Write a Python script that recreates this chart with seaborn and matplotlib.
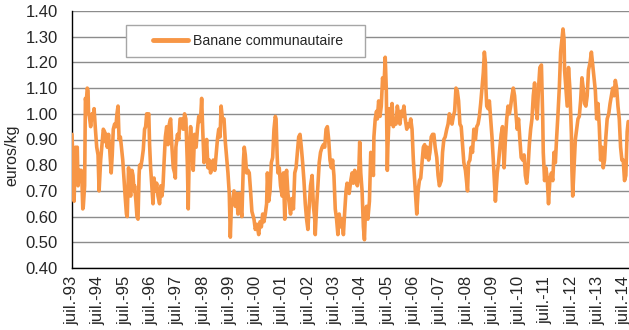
import matplotlib
matplotlib.use("Agg")
import matplotlib.pyplot as plt
import matplotlib.dates as mdates
from matplotlib.patches import Rectangle
from matplotlib.ticker import FuncFormatter
import pandas as pd
import seaborn as sns

# Weekly wholesale price of EU bananas, euros/kg, indexed by decimal year
# (x.5 = beginning of July)
year = [
    1993.50, 1993.54, 1993.58, 1993.63, 1993.68, 1993.70, 1993.73, 1993.79, 1993.85, 1993.88,
    1993.91, 1993.93, 1993.98, 1994.01, 1994.04, 1994.08, 1994.11, 1994.13, 1994.16, 1994.21,
    1994.26, 1994.30, 1994.34, 1994.39, 1994.44, 1994.49, 1994.53, 1994.56, 1994.59, 1994.64,
    1994.69, 1994.74, 1994.78, 1994.81, 1994.84, 1994.89, 1994.94, 1994.99, 1995.03, 1995.07,
    1995.12, 1995.17, 1995.21, 1995.25, 1995.29, 1995.34, 1995.38, 1995.43, 1995.48, 1995.52,
    1995.57, 1995.60, 1995.65, 1995.69, 1995.73, 1995.78, 1995.82, 1995.86, 1995.88, 1995.93,
    1995.97, 1996.01, 1996.05, 1996.07, 1996.11, 1996.16, 1996.21, 1996.26, 1996.30, 1996.34,
    1996.38, 1996.42, 1996.45, 1996.49, 1996.54, 1996.58, 1996.62, 1996.67, 1996.72, 1996.77,
    1996.83, 1996.88, 1996.92, 1996.96,
    1997.00, 1997.05, 1997.10, 1997.15, 1997.20, 1997.25, 1997.30, 1997.35, 1997.40, 1997.43,
    1997.45, 1997.51, 1997.56, 1997.61, 1997.67, 1997.73, 1997.78, 1997.83, 1997.89, 1997.92,
    1997.96, 1998.01, 1998.06, 1998.11, 1998.16, 1998.22, 1998.27, 1998.32, 1998.37, 1998.39,
    1998.43, 1998.47, 1998.52, 1998.57, 1998.62, 1998.67, 1998.72, 1998.77, 1998.82, 1998.87,
    1998.93, 1998.98, 1999.03, 1999.08, 1999.13, 1999.17, 1999.22, 1999.28, 1999.33, 1999.38,
    1999.43, 1999.48, 1999.52, 1999.56, 1999.61, 1999.66, 1999.71, 1999.76, 1999.81, 1999.86,
    1999.91, 1999.96, 2000.02, 2000.05, 2000.09, 2000.14, 2000.19, 2000.24, 2000.29, 2000.34,
    2000.42, 2000.47, 2000.53, 2000.60, 2000.65, 2000.70, 2000.75, 2000.80, 2000.85, 2000.90,
    2000.93, 2000.98, 2001.03, 2001.08, 2001.13, 2001.18, 2001.23, 2001.26, 2001.30, 2001.33,
    2001.38, 2001.43, 2001.49, 2001.54, 2001.59, 2001.61, 2001.66, 2001.71, 2001.76, 2001.81,
    2001.86, 2001.92, 2001.97, 2002.02, 2002.07, 2002.12, 2002.17, 2002.22, 2002.27, 2002.32,
    2002.37, 2002.42, 2002.47, 2002.52, 2002.57, 2002.63, 2002.68, 2002.73, 2002.75, 2002.80,
    2002.85, 2002.90, 2002.95, 2003.01, 2003.06, 2003.11, 2003.16, 2003.21, 2003.26, 2003.31,
    2003.36, 2003.41, 2003.46, 2003.51, 2003.56, 2003.61, 2003.66, 2003.72, 2003.77, 2003.82,
    2003.87,
    2003.92, 2003.96, 2003.99, 2004.04, 2004.10, 2004.15, 2004.20, 2004.25, 2004.30, 2004.35,
    2004.40, 2004.44, 2004.48, 2004.53, 2004.58, 2004.62, 2004.65, 2004.70, 2004.75, 2004.81,
    2004.86, 2004.91, 2004.96, 2004.98, 2005.03, 2005.08, 2005.11, 2005.16, 2005.21, 2005.26,
    2005.31, 2005.36, 2005.41, 2005.45, 2005.49, 2005.51, 2005.57, 2005.62, 2005.67, 2005.72,
    2005.77, 2005.82, 2005.87, 2005.92, 2005.97, 2006.02, 2006.07, 2006.12, 2006.17, 2006.23,
    2006.28, 2006.33, 2006.38, 2006.43, 2006.48, 2006.53, 2006.58, 2006.61, 2006.66, 2006.71,
    2006.76, 2006.81, 2006.86, 2006.91, 2006.96, 2007.01, 2007.06, 2007.11, 2007.16, 2007.21,
    2007.26, 2007.31, 2007.37, 2007.42, 2007.47,
    2007.54, 2007.59, 2007.64, 2007.69, 2007.75, 2007.80, 2007.85, 2007.90, 2007.95, 2008.00,
    2008.05, 2008.10, 2008.15, 2008.20, 2008.25, 2008.30, 2008.35, 2008.40, 2008.46, 2008.51,
    2008.54, 2008.58, 2008.63, 2008.68, 2008.73, 2008.78, 2008.84, 2008.89, 2008.94, 2008.99,
    2009.04, 2009.09, 2009.14, 2009.18, 2009.22, 2009.24, 2009.27, 2009.32, 2009.37, 2009.42,
    2009.47, 2009.52, 2009.56, 2009.60, 2009.63, 2009.67, 2009.72, 2009.77, 2009.82, 2009.87,
    2009.93, 2009.98, 2010.03, 2010.08, 2010.13, 2010.18, 2010.23, 2010.28, 2010.33, 2010.38,
    2010.43, 2010.48, 2010.53, 2010.58, 2010.64, 2010.69, 2010.74, 2010.79, 2010.84, 2010.89,
    2010.94, 2010.99, 2011.04, 2011.09, 2011.14, 2011.19, 2011.24, 2011.29, 2011.35, 2011.37,
    2011.40, 2011.42, 2011.47, 2011.52, 2011.57, 2011.62, 2011.67, 2011.73, 2011.78, 2011.83,
    2011.88, 2011.93, 2011.98, 2012.03, 2012.08, 2012.13, 2012.17, 2012.21, 2012.23, 2012.28,
    2012.33, 2012.38, 2012.43, 2012.49, 2012.51, 2012.54, 2012.59, 2012.64, 2012.69, 2012.74,
    2012.79, 2012.84, 2012.89, 2012.94, 2012.99, 2013.04, 2013.09, 2013.14, 2013.20, 2013.25,
    2013.30, 2013.35, 2013.40, 2013.45, 2013.50, 2013.55, 2013.60, 2013.65, 2013.70, 2013.75,
    2013.80, 2013.85, 2013.91, 2013.96, 2014.01, 2014.06, 2014.11, 2014.16, 2014.21, 2014.26,
    2014.31, 2014.36, 2014.41, 2014.46, 2014.51, 2014.56, 2014.61, 2014.65,
]

price = [
    0.92, 0.80, 0.66, 0.87, 0.85, 0.87, 0.72, 0.78, 0.78, 0.73,
    0.63, 0.64, 0.72, 1.06, 1.04, 1.10, 1.09, 1.00, 0.99, 0.95,
    1.00, 0.98, 1.02, 0.94, 0.87, 0.84, 0.70, 0.76, 0.82, 0.88,
    0.94, 0.93, 0.89, 0.92, 0.87, 0.92, 0.85, 0.77, 0.84, 0.94,
    0.96, 0.95, 1.00, 1.03, 0.90, 0.91, 0.87, 0.82, 0.74, 0.68,
    0.61, 0.60, 0.79, 0.72, 0.68, 0.78, 0.76, 0.70, 0.72, 0.66,
    0.60, 0.59, 0.76, 0.80, 0.79, 0.82, 0.86, 0.94, 0.95, 1.00,
    0.99, 1.00, 0.88, 0.79, 0.71, 0.65, 0.75, 0.70, 0.73, 0.68,
    0.65, 0.72, 0.68, 0.72,
    0.81, 0.91, 0.95, 0.88, 0.96, 0.98, 0.87, 0.79, 0.77, 0.75,
    0.87, 0.92, 0.90, 0.98, 0.98, 0.94, 1.00, 0.98, 0.79, 0.63,
    0.85, 0.95, 0.87, 0.78, 0.92, 0.87, 0.94, 0.99, 0.97, 0.98,
    1.06, 0.94, 0.81, 0.84, 0.90, 0.79, 0.82, 0.77, 0.80, 0.82,
    0.78, 0.84, 0.90, 0.94, 0.91, 1.03, 0.98, 0.98, 0.89, 0.83,
    0.77, 0.69, 0.52, 0.64, 0.66, 0.70, 0.64, 0.69, 0.61, 0.69,
    0.63, 0.60, 0.82, 0.87, 0.84, 0.77, 0.78, 0.77, 0.70, 0.62,
    0.59, 0.55, 0.57, 0.53, 0.58, 0.56, 0.61, 0.58, 0.61, 0.65,
    0.77, 0.66, 0.70, 0.81, 0.83, 0.94, 0.99, 0.98, 0.84, 0.77,
    0.79, 0.72, 0.68, 0.77, 0.59, 0.74, 0.78, 0.69, 0.65, 0.61,
    0.67, 0.63, 0.77, 0.79, 0.85, 0.91, 0.92, 0.87, 0.81, 0.74,
    0.65, 0.59, 0.55, 0.64, 0.72, 0.76, 0.64, 0.59, 0.53, 0.64,
    0.72, 0.81, 0.85, 0.87, 0.88, 0.87, 0.94, 0.95, 0.90, 0.82,
    0.79, 0.82, 0.76, 0.63, 0.59, 0.53, 0.61, 0.56, 0.59, 0.53,
    0.62,
    0.70, 0.73, 0.72, 0.69, 0.74, 0.77, 0.73, 0.78, 0.74, 0.72,
    0.76, 0.89, 0.77, 0.70, 0.56, 0.51, 0.60, 0.64, 0.59, 0.66,
    0.85, 0.84, 0.76, 0.91, 0.98, 1.01, 0.98, 1.05, 0.99, 1.03,
    1.14, 1.10, 1.22, 1.10, 0.78, 0.87, 1.02, 0.96, 1.04, 0.95,
    0.98, 0.96, 1.03, 1.00, 0.96, 1.01, 0.99, 1.03, 0.98, 0.94,
    0.96, 0.95, 0.98, 0.94, 0.82, 0.74, 0.66, 0.61, 0.70, 0.74,
    0.75, 0.81, 0.87, 0.88, 0.83, 0.87, 0.82, 0.85, 0.91, 0.92,
    0.92, 0.87, 0.83, 0.76, 0.72,
    0.74, 0.85, 0.90, 0.91, 0.94, 0.96, 1.00, 0.97, 0.96, 0.99,
    1.01, 1.10, 1.09, 1.05, 0.96, 0.95, 0.88, 0.81, 0.78, 0.73,
    0.70, 0.81, 0.82, 0.87, 0.85, 0.94, 0.90, 0.95, 0.96, 0.99,
    1.04, 1.10, 1.16, 1.24, 1.20, 1.10, 1.03, 1.02, 1.05, 0.98,
    0.91, 0.82, 0.74, 0.66, 0.71, 0.77, 0.81, 0.87, 0.92, 0.95,
    0.79, 0.90, 0.98, 1.03, 1.00, 1.03, 1.07, 1.10, 1.07, 1.00,
    0.94, 0.98, 0.90, 0.83, 0.82, 0.84, 0.76, 0.73, 0.79, 0.88,
    0.94, 0.98, 1.07, 1.12, 1.04, 0.98, 1.10, 1.18, 1.19, 1.10,
    0.98, 0.85, 0.74, 0.79, 0.75, 0.65, 0.74, 0.77, 0.74, 0.85,
    0.81, 0.91, 1.00, 1.10, 1.24, 1.29, 1.33, 1.29, 1.17, 1.10,
    1.03, 1.18, 1.10, 0.92, 0.78, 0.68, 0.79, 0.90, 0.94, 0.98,
    0.99, 1.05, 1.14, 1.10, 1.04, 1.03, 1.07, 1.17, 1.20, 1.24,
    1.19, 1.14, 1.09, 0.98, 1.04, 0.95, 0.82, 0.87, 0.79, 0.82,
    0.91, 0.98, 1.00, 1.04, 1.07, 1.10, 1.07, 1.13, 1.10, 1.03,
    0.98, 0.87, 0.82, 0.82, 0.74, 0.76, 0.93, 0.97,
]

series_name = "Banane communautaire"
y_label = "euros/kg"
y_ticks = [0.40, 0.50, 0.60, 0.70, 0.80, 0.90, 1.00, 1.10, 1.20, 1.30, 1.40]
first_tick_year = 1993
last_tick_year = 2014

line_color = "#F79646"
grid_color = "#8C8C8C"

sns.set_theme(style="white")
plt.rcParams["font.family"] = ["Liberation Sans", "DejaVu Sans"]

origin = pd.Timestamp(first_tick_year, 7, 1)


def to_date(y):
    return origin + pd.Timedelta(days=(y - (first_tick_year + 0.5)) * 365.25)


df = pd.DataFrame({"date": [to_date(y) for y in year], "price": price})

fig = plt.figure(figsize=(6.29, 3.30), dpi=100)
ax = fig.add_axes([72 / 629, 62 / 330, 557 / 629, 257 / 330])

sns.lineplot(data=df, x="date", y="price", ax=ax, color=line_color,
             linewidth=2.6, label=series_name, zorder=3)

ax.set_ylim(min(y_ticks), max(y_ticks))
ax.set_yticks(y_ticks)
ax.yaxis.set_major_formatter(FuncFormatter(lambda v, p: f"{v:.2f}"))
ax.set_xlim(origin, to_date(2014.68))

ax.xaxis.set_major_locator(mdates.MonthLocator(bymonth=7, bymonthday=1))
ax.xaxis.set_major_formatter(
    FuncFormatter(lambda v, p: "juil.-" + mdates.num2date(v).strftime("%y")))
ax.tick_params(axis="x", rotation=90, labelsize=12, direction="out",
               length=4, width=1, color="black", pad=1.5)
ax.tick_params(axis="y", labelsize=12, direction="out",
               length=5, width=1, color="black", pad=5)
for lbl in ax.get_xticklabels():
    lbl.set_verticalalignment("top")

ax.set_xlabel("")
ax.set_ylabel(y_label, fontsize=11.5)
ax.yaxis.set_label_coords(-0.094, 0.44)

ax.yaxis.grid(True, color=grid_color, linewidth=1.0)
ax.xaxis.grid(False)
ax.set_axisbelow(True)
for side in ("top", "right"):
    ax.spines[side].set_visible(False)
for side in ("left", "bottom"):
    ax.spines[side].set_color("black")
    ax.spines[side].set_linewidth(1.0)

# legend box drawn as a patch, legend entry placed inside it
box = Rectangle(((126 - 72) / 557, 1 - (57 - 11) / 257), 239 / 557, 32 / 257,
                transform=ax.transAxes, facecolor="white", edgecolor="#A6A6A6",
                linewidth=1.0, zorder=4)
ax.add_patch(box)
leg = ax.legend(loc="center left", bbox_to_anchor=((153 - 72) / 557, 1 - (41 - 11) / 257),
                frameon=False, fontsize=10.2, handlelength=2.5, handletextpad=0.3,
                borderpad=0, borderaxespad=0)
leg.set_zorder(5)
for h in leg.get_lines():
    h.set_linewidth(3.5)

fig.savefig("out.png", dpi=100)
